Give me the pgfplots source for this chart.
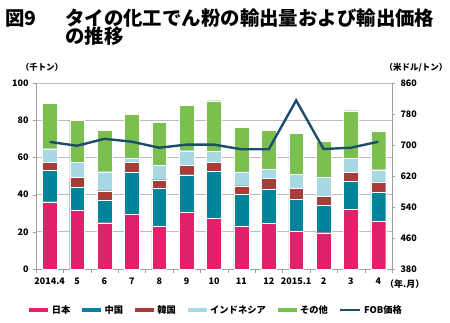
\documentclass[border=0pt]{standalone}
\usepackage{fontspec}
\setmainfont{Noto Sans CJK JP}
\usepackage{pgfplots}
\pgfplotsset{compat=1.18}
\definecolor{cjp}{HTML}{E0226A}
\definecolor{ccn}{HTML}{00849A}
\definecolor{ckr}{HTML}{A83C38}
\definecolor{cid}{HTML}{A8D8E4}
\definecolor{cot}{HTML}{7BBF4F}
\definecolor{cline}{HTML}{1C4E6C}
\definecolor{axgray}{HTML}{A0A0A0}
\definecolor{grgray}{HTML}{BDBDBD}
\begin{document}
\begin{tikzpicture}[x=1bp,y=1bp]
\path[use as bounding box] (-36,-53) rectangle (414,269);
\begin{axis}[at={(0,0)}, anchor=south west, scale only axis,
  width=356bp, height=186bp,
  ybar stacked, bar width=14.8bp,
  xmin=-0.5, xmax=12.5, ymin=0, ymax=100,
  ytick={0,20,...,100},
  xtick={0,...,12},
  xticklabels={2014.4,5,6,7,8,9,10,11,12,2015.1,2,3,4},
  minor xtick={-0.5,0.5,...,12.5},
  major x tick style={draw=none},
  minor x tick style={draw=axgray},
  minor tick length=4bp, major tick length=3bp,
  tick align=outside,
  ytick style={draw=axgray},
  axis x line*=bottom, axis y line*=left,
  axis line style={draw=axgray, line width=0.8bp},
  ymajorgrids, grid style={draw=grgray, line width=0.7bp},
  tick label style={font=\fontsize{9}{10}\selectfont\bfseries},
  /pgf/number format/assume math mode=true,
  yticklabel style={xshift=-1bp},
  xticklabel style={yshift=-2bp},
  legend columns=6,
  legend style={at={(0.506,-0.22)}, anchor=center, draw=none, fill=none,
    font=\fontsize{9.3}{10}\selectfont\bfseries,
    /tikz/every even column/.append style={column sep=9bp},
    /tikz/every odd column/.append style={column sep=1bp}},
  legend image code/.code={\fill[#1] (0bp,-2.4bp) rectangle (20bp,2.4bp);},
]
\addplot[fill=cjp, draw=white, line width=0.3bp] coordinates {(0,36.2)(1,31.4)(2,24.9)(3,29.7)(4,23.1)(5,30.6)(6,27.1)(7,23.1)(8,24.4)(9,20.1)(10,19.5)(11,32.3)(12,25.6)};
\addplot[fill=ccn, draw=white, line width=0.3bp] coordinates {(0,16.7)(1,12.7)(2,12.2)(3,22.5)(4,20.3)(5,20.1)(6,25.4)(7,17.2)(8,18.6)(9,17.2)(10,14.9)(11,15.0)(12,15.6)};
\addplot[fill=ckr, draw=white, line width=0.3bp] coordinates {(0,4.4)(1,5.2)(2,5.0)(3,5.1)(4,4.6)(5,5.0)(6,4.8)(7,4.5)(8,5.9)(9,6.1)(10,4.7)(11,4.7)(12,5.6)};
\addplot[fill=cid, draw=white, line width=0.3bp] coordinates {(0,7.4)(1,8.0)(2,10.2)(3,2.2)(4,7.6)(5,7.9)(6,5.8)(7,7.4)(8,4.9)(9,7.5)(10,10.2)(11,7.5)(12,6.6)};
\addplot[fill=cot, draw=white, line width=0.3bp] coordinates {(0,24.5)(1,22.8)(2,22.3)(3,23.7)(4,23.3)(5,24.4)(6,27.4)(7,23.8)(8,20.9)(9,21.9)(10,19.5)(11,25.6)(12,20.8)};
\addlegendimage{legend image code/.code={\draw[cline, line width=2.2bp] (0bp,0bp) -- (20bp,0bp);}}
\legend{日本,中国,韓国,インドネシア,その他,FOB価格}
\end{axis}
\begin{axis}[at={(0,0)}, anchor=south west, scale only axis,
  width=356bp, height=186bp,
  xmin=-0.5, xmax=12.5, ymin=380, ymax=860,
  ytick={380,460,...,860},
  axis x line=none, axis y line*=right,
  axis line style={draw=axgray, line width=0.8bp},
  ytick style={draw=axgray}, tick align=outside, major tick length=3bp,
  tick label style={font=\fontsize{9}{10}\selectfont\bfseries},
  /pgf/number format/assume math mode=true,
  yticklabel style={xshift=2bp},
]
\addplot[cline, line width=2.4bp, mark=none] coordinates {(0,708)(1,698)(2,716)(3,708.5)(4,693)(5,701)(6,701)(7,689)(8,689)(9,815)(10,689.6)(11,693)(12,708.5)};
\end{axis}
\node[anchor=base west, inner sep=0, font=\fontsize{19.5}{20}\selectfont\bfseries] at (-31,244) {図9};
\node[anchor=base west, inner sep=0, font=\fontsize{19.5}{20}\selectfont\bfseries] at (29,244) {タイの化工でん粉の輸出量および輸出価格};
\node[anchor=base west, inner sep=0, font=\fontsize{19.5}{20}\selectfont\bfseries] at (29,226) {の推移};
\node[anchor=base, inner sep=0, font=\fontsize{8.5}{9}\selectfont\bfseries] at (6,199) {（千トン）};
\node[anchor=base, inner sep=0, font=\fontsize{8.5}{9}\selectfont\bfseries] at (380,199) {（米ドル/トン）};
\node[anchor=base west, inner sep=0, font=\fontsize{9}{10}\selectfont\bfseries] at (349,-18) {（年.月）};
\end{tikzpicture}
\end{document}
